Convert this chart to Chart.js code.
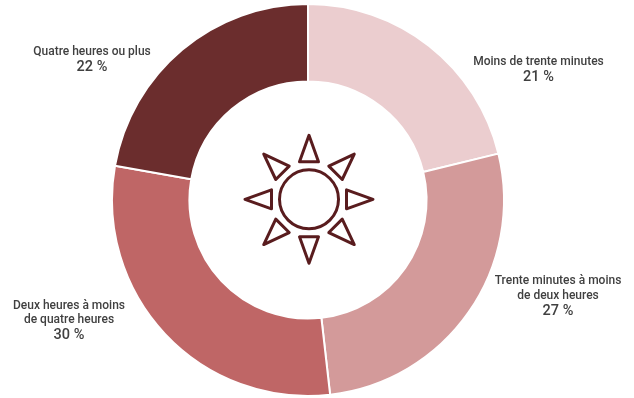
<!DOCTYPE html>
<html lang="fr">
<head>
<meta charset="utf-8">
<title>Durée</title>
<script src="https://cdn.jsdelivr.net/npm/chart.js@4"></script>
<style>
html, body { margin: 0; padding: 0; background: #fff; }
#wrap { width: 634px; height: 398px; position: relative; }
</style>
</head>
<body>
<div id="wrap"><canvas id="chart" width="634" height="398"></canvas></div>
<script>
// donnees
const categories = [
    ['Moins de trente minutes'],
    ['Trente minutes à moins', 'de deux heures'],
    ['Deux heures à moins', 'de quatre heures'],
    ['Quatre heures ou plus']
];
const values = [21.2, 27.0, 29.6, 22.2];
const colors = ['#EBCDCF', '#D39A9A', '#BF6666', '#6B2D2D'];

// centre horizontal et premiere ligne de chaque etiquette
const labelX = [538.5, 558, 69, 92];
const labelY = [61.5, 281, 305.5, 52];

const ICON_COLOR = '#591C1E';

const labelsPlugin = {
    id: 'sliceLabels',
    afterDraw(chart) {
        const ctx = chart.ctx;
        ctx.save();
        ctx.fillStyle = '#404040';
        ctx.textAlign = 'center';
        ctx.textBaseline = 'middle';
        categories.forEach((lines, i) => {
            let y = labelY[i];
            ctx.font = '500 12px Roboto';
            lines.forEach((line, n) => {
                if (n > 0) y += 14.5;
                ctx.fillText(line, labelX[i], y);
            });
            ctx.font = '500 14.5px Roboto';
            ctx.fillText(Math.round(values[i]) + ' %', labelX[i], y + 15.5);
        });
        ctx.restore();
    }
};

// soleil au centre de l'anneau
const sunPlugin = {
    id: 'sunIcon',
    afterDraw(chart) {
        const ctx = chart.ctx;
        const arc = chart.getDatasetMeta(0).data[0];
        ctx.save();
        ctx.translate(arc.x + 1, arc.y - 0.7);
        ctx.strokeStyle = ICON_COLOR;
        ctx.lineWidth = 3;
        ctx.lineJoin = 'round';
        ctx.beginPath();
        ctx.arc(0, 0, 29.5, 0, Math.PI * 2);
        ctx.stroke();
        for (let i = 0; i < 8; i++) {
            ctx.beginPath();
            ctx.moveTo(0, -64);
            ctx.lineTo(9.5, -37.5);
            ctx.lineTo(-9.5, -37.5);
            ctx.closePath();
            ctx.stroke();
            ctx.rotate(Math.PI / 4);
        }
        ctx.restore();
    }
};

new Chart(document.getElementById('chart').getContext('2d'), {
    type: 'doughnut',
    data: {
        labels: categories.map(l => l.join(' ')),
        datasets: [{
            data: values,
            backgroundColor: colors,
            borderColor: '#ffffff',
            borderWidth: 2
        }]
    },
    options: {
        responsive: false,
        animation: false,
        cutout: '60.5%',
        layout: { padding: { left: 0, right: 18, top: 3, bottom: 1 } },
        plugins: { legend: { display: false }, tooltip: { enabled: false } }
    },
    plugins: [labelsPlugin, sunPlugin]
});
</script>
</body>
</html>
